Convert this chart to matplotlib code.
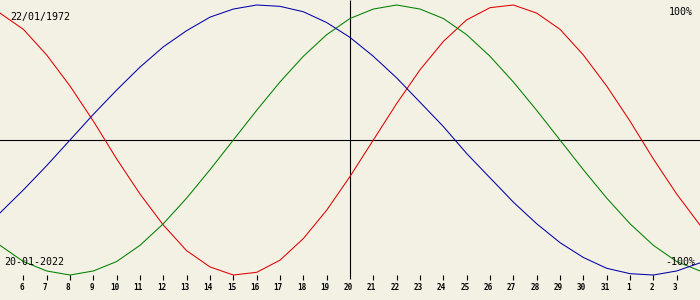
#Biorhythm chart, 30 days around 20-01-2022 for birth date 22/01/1972

import matplotlib
matplotlib.use('Agg')
import matplotlib.pyplot as plt

# day offsets from 20 Jan (one point per day, x=0 is the day of interest)
offsets = list(range(-15, 16))

# values, percent
physical = [94, 82, 63, 40, 14, -14, -40, -63, -82, -94, -100, -98, -89, -73, -52, -27,
            0, 27, 52, 73, 89, 98, 100, 94, 82, 63, 40, 14, -14, -40, -63]
emotional = [-78, -90, -97, -100, -97, -90, -78, -62, -43, -22, 0, 22, 43, 62, 78, 90,
             97, 100, 97, 90, 78, 62, 43, 22, 0, -22, -43, -62, -78, -90, -97]
intellectual = [-54, -37, -19, 0, 19, 37, 54, 69, 81, 91, 97, 100, 99, 95, 87, 76,
                62, 46, 28, 10, -10, -28, -46, -62, -76, -87, -95, -99, -100, -97, -91]

tick_offsets = list(range(-14, 15))
tick_labels = ['6', '7', '8', '9', '10', '11', '12', '13', '14', '15', '16', '17', '18', '19',
               '20', '21', '22', '23', '24', '25', '26', '27', '28', '29', '30', '31', '1', '2', '3']

birth = '22/01/1972'
today = '20-01-2022'

bg = '#f3f0e4'
fig = plt.figure(figsize=(7, 3), dpi=100, facecolor=bg)
ax = fig.add_axes([0, 0, 1, 1])
ax.set_facecolor(bg)
ax.set_xlim(-15, 15)
ax.set_ylim(-118.5, 103.7)
ax.axis('off')

# axes cross
ax.axhline(0, color='k', lw=0.8)
ax.vlines(0, -103, 103.7, color='k', lw=0.8)

ax.plot(offsets, physical, color='#e00000', lw=0.75)
ax.plot(offsets, emotional, color='#008000', lw=0.75)
ax.plot(offsets, intellectual, color='#0000a8', lw=0.75)

# day ticks
for t, lab in zip(tick_offsets, tick_labels):
    if t != 0:
        ax.vlines(t, -103.7, -100, color='k', lw=0.8)
    ax.text(t - 0.08, -109.6, lab, ha='center', va='center', fontsize=5.5,
            family='DejaVu Sans Mono', fontweight='bold')

mono = dict(family='DejaVu Sans Mono', fontsize=7.2)
ax.text(10/700, 1 - 17/300, birth, transform=ax.transAxes, ha='left', va='center', **mono)
ax.text(693/700, 1 - 12/300, '100%', transform=ax.transAxes, ha='right', va='center', **mono)
ax.text(4/700, 1 - 262/300, today, transform=ax.transAxes, ha='left', va='center', **mono)
ax.text(695/700, 1 - 262/300, '-100%', transform=ax.transAxes, ha='right', va='center', **mono)

plt.savefig('out.png', dpi=100, facecolor=bg)
